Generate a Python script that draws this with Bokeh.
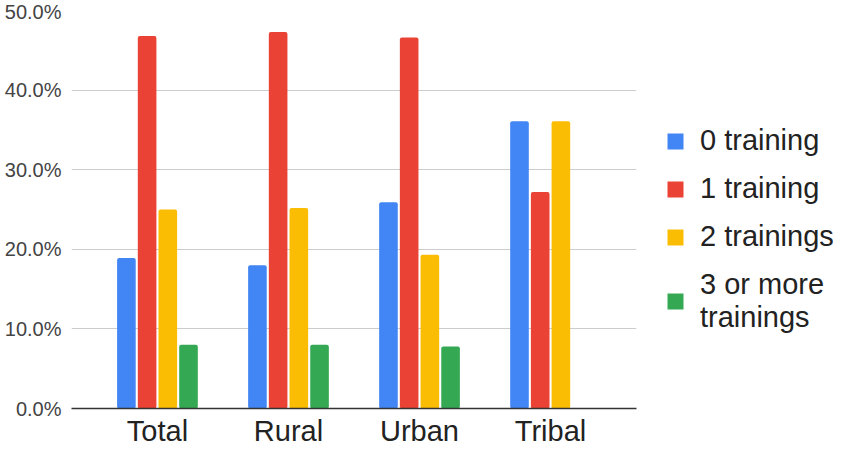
from bokeh.plotting import figure
from bokeh.models import ColumnDataSource, FactorRange, NumeralTickFormatter, Legend, LegendItem, Range1d
from bokeh.layouts import row
from bokeh.transform import dodge
from bokeh.embed import file_html
from bokeh.resources import INLINE

categories = ["Total", "Rural", "Urban", "Tribal"]
series_names = ["0 training", "1 training", "2 trainings", "3 or more\ntrainings"]
zero_training = [0.189, 0.180, 0.259, 0.361]
one_training = [0.468, 0.473, 0.466, 0.272]
two_trainings = [0.250, 0.252, 0.193, 0.361]
three_or_more = [0.080, 0.080, 0.078, 0.0]
y_ticks = [0.0, 0.1, 0.2, 0.3, 0.4, 0.5]

colors = ["#4285F4", "#EA4335", "#FBBC04", "#34A853"]
offsets = [-0.237, -0.079, 0.079, 0.237]
FONT = "Liberation Sans"

source = ColumnDataSource(dict(cat=categories, s0=zero_training, s1=one_training,
                               s2=two_trainings, s3=three_or_more))

p = figure(width=640, height=449, output_backend="svg", toolbar_location=None,
           x_range=FactorRange(*categories, range_padding=0.078),
           y_range=(0, 0.5))
p.min_border_left = 71
p.min_border_top = 10
p.min_border_bottom = 37
p.min_border_right = 4
p.outline_line_color = None
p.background_fill_color = "white"
p.border_fill_color = "white"

for i, col in enumerate(["s0", "s1", "s2", "s3"]):
    p.vbar(x=dodge("cat", offsets[i], range=p.x_range), top=col, width=0.142,
           source=source, fill_color=colors[i], line_color=None, border_radius=2)

p.ygrid.grid_line_color = "#cccccc"
p.ygrid.grid_line_width = 1
p.xgrid.grid_line_color = None

p.yaxis.ticker = y_ticks
p.yaxis.formatter = NumeralTickFormatter(format="0.0%")
p.yaxis.axis_line_color = None
p.yaxis.major_tick_line_color = None
p.yaxis.minor_tick_line_color = None
p.yaxis.major_tick_out = 0
p.yaxis.minor_tick_out = 0
p.yaxis.major_label_text_font = FONT
p.yaxis.major_label_text_font_size = "20px"
p.yaxis.major_label_text_color = "#444444"
p.yaxis.major_label_standoff = 10

p.xaxis.axis_line_color = "#333333"
p.xaxis.axis_line_width = 1.5
p.xaxis.major_tick_line_color = None
p.xaxis.minor_tick_line_color = None
p.xaxis.major_tick_out = 0
p.xaxis.minor_tick_out = 0
p.xaxis.major_label_text_font = FONT
p.xaxis.major_label_text_font_size = "29px"
p.xaxis.major_label_text_color = "#222222"
p.xaxis.major_label_standoff = 6

# legend panel
p2 = figure(width=193, height=449, output_backend="svg", toolbar_location=None,
            x_range=Range1d(0, 1), y_range=Range1d(0, 1))
p2.min_border = 0
p2.outline_line_color = None
p2.axis.visible = False
p2.grid.visible = False
p2.border_fill_color = "white"
legend_renderers = []
for i in range(4):
    legend_renderers.append(p2.vbar(x=[0.5], top=[0], width=0.1, fill_color=colors[i],
                                    line_color=None))
items = [LegendItem(label=series_names[i], renderers=[legend_renderers[i]]) for i in range(4)]
legend = Legend(items=items, location=(25, 74), border_line_color=None,
                background_fill_alpha=0, label_text_font=FONT,
                label_text_font_size="29px", label_text_color="#222222",
                glyph_width=20, glyph_height=20, label_standoff=15,
                spacing=15, margin=0, padding=0)
legend.label_text_line_height = 1.05
p2.add_layout(legend)

layout = row(p, p2, spacing=0)
open("out.html", "w").write(file_html(layout, INLINE))
